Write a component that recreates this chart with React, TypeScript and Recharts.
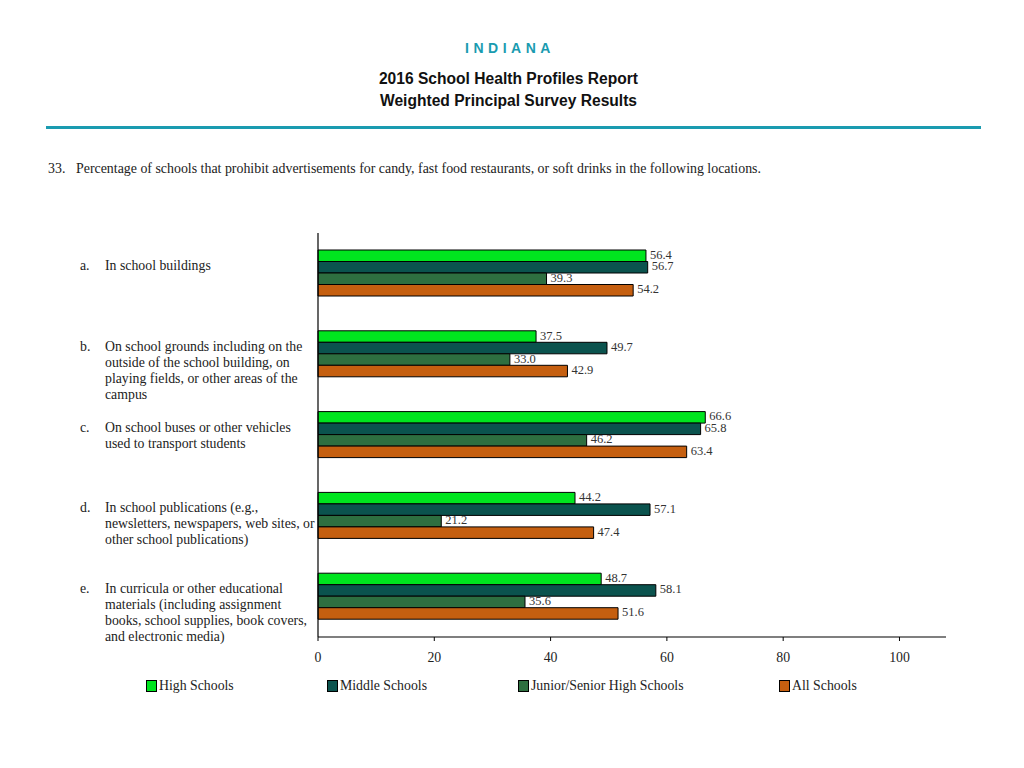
import React from "react";
import { BarChart, Bar, XAxis, YAxis, LabelList } from "recharts";

const letters = ["a.", "b.", "c.", "d.", "e."];
const categoryLines = [
  ["In school buildings"],
  [
    "On school grounds including on the",
    "outside of the school building, on",
    "playing fields, or other areas of the",
    "campus",
  ],
  ["On school buses or other vehicles", "used to transport students"],
  [
    "In school publications (e.g.,",
    "newsletters, newspapers, web sites, or",
    "other school publications)",
  ],
  [
    "In curricula or other educational",
    "materials (including assignment",
    "books, school supplies, book covers,",
    "and electronic media)",
  ],
];

const highSchools = [56.4, 37.5, 66.6, 44.2, 48.7];
const middleSchools = [56.7, 49.7, 65.8, 57.1, 58.1];
const juniorSenior = [39.3, 33.0, 46.2, 21.2, 35.6];
const allSchools = [54.2, 42.9, 63.4, 47.4, 51.6];

const xTicks = [0, 20, 40, 60, 80, 100];

const seriesNames = [
  "High Schools",
  "Middle Schools",
  "Junior/Senior High Schools",
  "All Schools",
];
const seriesColors = ["#00e51f", "#0b534e", "#2e6f40", "#c55f10"];
const seriesKeys = ["high", "middle", "jrsr", "all"];

const data = letters.map((l, i) => ({
  name: l,
  high: highSchools[i],
  middle: middleSchools[i],
  jrsr: juniorSenior[i],
  all: allSchools[i],
}));

const serif = '"Liberation Serif", "Times New Roman", serif';
const sans = '"Liberation Sans", Arial, sans-serif';

function CategoryTick(props: any) {
  const { y, payload } = props;
  const idx = letters.indexOf(payload.value);
  const lines = categoryLines[idx] || [];
  const startY = y - 8;
  return (
    <g fontFamily={serif} fontSize={13.8} fill="#222">
      <text x={80} y={startY} dominantBaseline="central">
        {payload.value}
      </text>
      {lines.map((ln, k) => (
        <text key={k} x={105} y={startY + k * 16} dominantBaseline="central">
          {ln}
        </text>
      ))}
    </g>
  );
}

function ValueLabel(props: any) {
  const { x, y, width, height, value } = props;
  return (
    <text
      x={x + width + 4}
      y={y + height / 2 - 1}
      dominantBaseline="central"
      fontFamily={serif}
      fontSize={12.5}
      fill="#333"
    >
      {Number(value).toFixed(1)}
    </text>
  );
}

const legendLeft = [146, 327, 518, 779];

export default function App() {
  return (
    <div
      style={{
        position: "relative",
        width: 1024,
        height: 768,
        margin: -8,
        background: "#fff",
        overflow: "hidden",
      }}
    >
      <div
        style={{
          position: "absolute",
          top: 40,
          left: 0,
          width: 1020,
          textAlign: "center",
          fontFamily: sans,
          fontWeight: "bold",
          fontSize: 14,
          letterSpacing: 4.5,
          color: "#1a9bb0",
        }}
      >
        INDIANA
      </div>
      <div
        style={{
          position: "absolute",
          top: 68,
          left: 0,
          width: 1017,
          textAlign: "center",
          fontFamily: sans,
          fontWeight: "bold",
          fontSize: 15.6,
          lineHeight: "22px",
          color: "#111",
        }}
      >
        2016 School Health Profiles Report
        <br />
        Weighted Principal Survey Results
      </div>
      <div
        style={{
          position: "absolute",
          top: 126,
          left: 46,
          width: 935,
          height: 3,
          background: "#1a9bb0",
        }}
      />
      <div
        style={{
          position: "absolute",
          top: 161,
          left: 48,
          fontFamily: serif,
          fontSize: 13.9,
          color: "#222",
          whiteSpace: "nowrap",
        }}
      >
        33.
        <span style={{ position: "absolute", left: 28 }}>
          Percentage of schools that prohibit advertisements for candy, fast
          food restaurants, or soft drinks in the following locations.
        </span>
      </div>

      <div style={{ position: "absolute", left: 0, top: 0 }}>
        <BarChart
          width={1024}
          height={768}
          data={data}
          layout="vertical"
          margin={{ top: 233, right: 78, bottom: 101, left: 18 }}
          barSize={11.5}
          barGap={0}
        >
          <XAxis
            type="number"
            domain={[0, 108]}
            ticks={xTicks}
            height={30}
            axisLine={{ stroke: "#000", strokeWidth: 1.2 }}
            tickLine={{ stroke: "#000" }}
            tickSize={4}
            tickMargin={11}
            tick={{ fontFamily: serif, fontSize: 13.8, fill: "#222" }}
          />
          <YAxis
            type="category"
            dataKey="name"
            width={300}
            axisLine={{ stroke: "#000", strokeWidth: 1.2 }}
            tickLine={false}
            tick={<CategoryTick />}
          />
          {seriesKeys.map((k, i) => (
            <Bar
              key={k}
              dataKey={k}
              fill={seriesColors[i]}
              stroke="#000"
              strokeWidth={1}
              isAnimationActive={false}
            >
              <LabelList dataKey={k} content={<ValueLabel />} />
            </Bar>
          ))}
        </BarChart>
      </div>

      {seriesNames.map((n, i) => (
        <div
          key={n}
          style={{
            position: "absolute",
            top: 678,
            left: legendLeft[i],
            fontFamily: serif,
            fontSize: 13.8,
            color: "#222",
            display: "flex",
            alignItems: "center",
            whiteSpace: "nowrap",
          }}
        >
          <span
            style={{
              display: "inline-block",
              width: 9,
              height: 10,
              background: seriesColors[i],
              border: "1px solid #000",
              marginRight: 2,
            }}
          />
          {n}
        </div>
      ))}
    </div>
  );
}
